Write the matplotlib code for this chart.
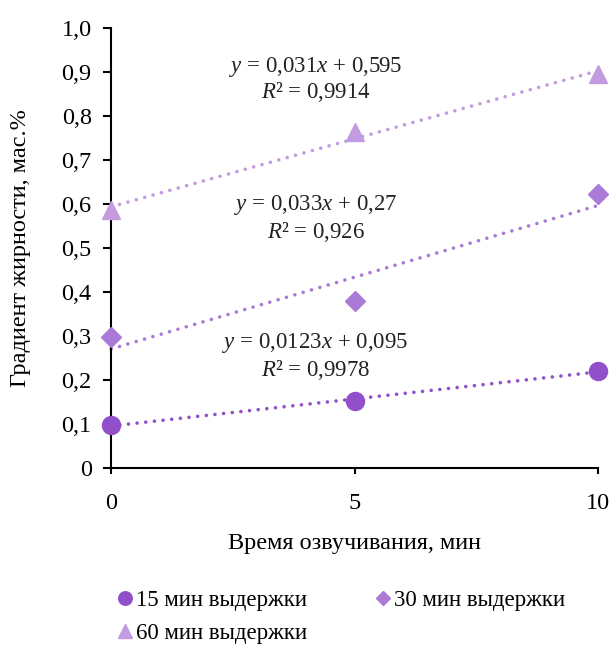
import numpy as np
import matplotlib
matplotlib.use("Agg")
import matplotlib.pyplot as plt
from matplotlib.ticker import FuncFormatter

plt.rcParams['font.family'] = ['Liberation Serif', 'DejaVu Serif']
plt.rcParams['mathtext.fontset'] = 'custom'
plt.rcParams['mathtext.rm'] = 'Liberation Serif'
plt.rcParams['mathtext.it'] = 'Liberation Serif:italic'

x = [0, 5, 10]
s15 = [0.097, 0.153, 0.220]
s30 = [0.297, 0.380, 0.623]
s60 = [0.586, 0.763, 0.895]
labels = ["15 мин выдержки", "30 мин выдержки", "60 мин выдержки"]
eq_texts = [(r"$\it{y}$ = 0,0123$\it{x}$ + 0,095", r"$\it{R}$² = 0,9978"),
            (r"$\it{y}$ = 0,033$\it{x}$ + 0,27", r"$\it{R}$² = 0,926"),
            (r"$\it{y}$ = 0,031$\it{x}$ + 0,595", r"$\it{R}$² = 0,9914")]
colors = ["#9150C9", "#A97AD6", "#C39BE0"]
markers = ["o", "D", "^"]
msizes = [13, 10, 13]

fig = plt.figure(figsize=(6.14, 6.48), dpi=100)
ax = fig.add_axes([0.181, 0.278, 0.793, 0.679])

series = [s15, s30, s60]
handles = []
for ys, c, m, ms, lab in zip(series, colors, markers, msizes, labels):
    h, = ax.plot(x, ys, linestyle='none', marker=m, ms=ms, color=c, label=lab, zorder=3)
    handles.append(h)
    k, b = np.polyfit(x, ys, 1)
    xx = np.array([0, 10])
    ax.plot(xx, k * xx + b, linestyle=(0, (0.01, 2.4)), lw=2.6, color=c,
            dash_capstyle='round', zorder=2)

# equation labels (data coordinates)
eq_pos = [(4.2, 0.283, 0.222), (4.2, 0.597, 0.536), (4.2, 0.912, 0.855)]
for (t1, t2), (xp, y1, y2) in zip(eq_texts, eq_pos):
    ax.text(xp, y1, t1, ha='center', va='center', fontsize=16.5, color='#222222')
    ax.text(xp, y2, t2, ha='center', va='center', fontsize=16.5, color='#222222')

ax.set_xlim(0, 10)
ax.set_ylim(0, 1.0)
ax.set_xticks([0, 5, 10])
ax.set_yticks(np.arange(0, 1.01, 0.1))
ax.yaxis.set_major_formatter(FuncFormatter(lambda v, p: "0" if abs(v) < 1e-9 else f"{v:.1f}".replace('.', ',')))
for sp in ['top', 'right']:
    ax.spines[sp].set_visible(False)
for sp in ['left', 'bottom']:
    ax.spines[sp].set_linewidth(1.5)
ax.tick_params(axis='both', labelsize=17.5, width=1.5, direction='out')
ax.tick_params(axis='y', length=6, pad=8)
ax.tick_params(axis='x', length=4, pad=14)
ax.set_xlabel("Время озвучивания, мин", fontsize=17.5, labelpad=14)
ax.set_ylabel("Градиент жирности, мас.%", fontsize=17.5, labelpad=22)
for ln in ax.lines:
    ln.set_clip_on(False)

order = [0, 2, 1]
leg = fig.legend([handles[i] for i in order], [labels[i] for i in order],
                 loc='upper left', bbox_to_anchor=(0.175, 0.104), ncol=2, frameon=False,
                 fontsize=16.5, handlelength=0.7, handletextpad=0.15, columnspacing=2.95,
                 labelspacing=0.55, markerscale=0.75, borderaxespad=0)
fig.savefig("out.png", dpi=100)
